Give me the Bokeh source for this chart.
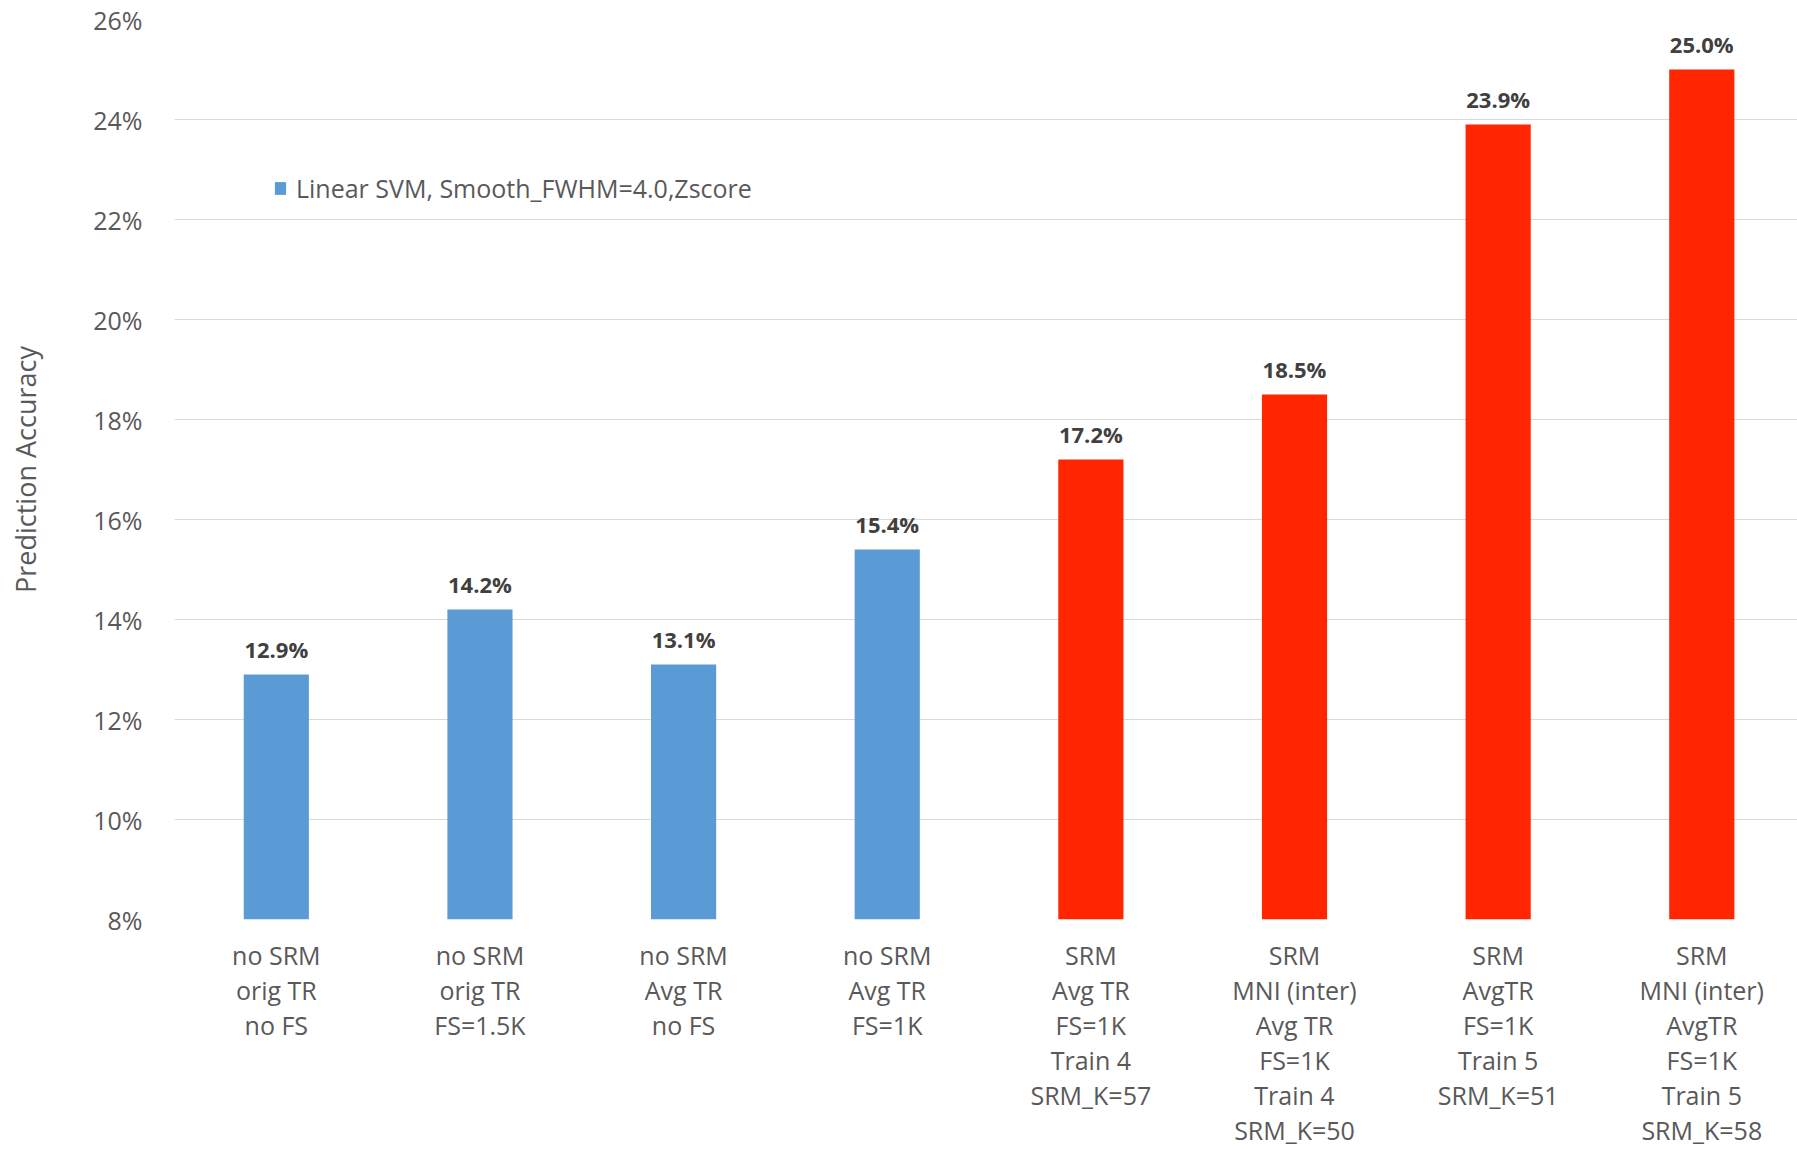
from bokeh.plotting import figure
from bokeh.models import (ColumnDataSource, Range1d, FixedTicker, PrintfTickFormatter,
                          Legend, LegendItem, LabelSet)
from bokeh.core.properties import value
from bokeh.embed import file_html
from bokeh.resources import INLINE

# Prediction accuracy (%) for each pipeline configuration
categories = [
    "no SRM\norig TR\nno FS",
    "no SRM\norig TR\nFS=1.5K",
    "no SRM\nAvg TR\nno FS",
    "no SRM\nAvg TR\nFS=1K",
    "SRM\nAvg TR\nFS=1K\nTrain 4\nSRM_K=57",
    "SRM\nMNI (inter)\nAvg TR\nFS=1K\nTrain 4\nSRM_K=50",
    "SRM\nAvgTR\nFS=1K\nTrain 5\nSRM_K=51",
    "SRM\nMNI (inter)\nAvgTR\nFS=1K\nTrain 5\nSRM_K=58",
]
accuracy = [12.9, 14.2, 13.1, 15.4, 17.2, 18.5, 23.9, 25.0]
uses_srm = [False, False, False, False, True, True, True, True]
y_ticks = [8, 10, 12, 14, 16, 18, 20, 22, 24, 26]
series_name = "Linear SVM, Smooth_FWHM=4.0,Zscore"

BLUE = "#5B9BD5"
RED = "#FF2600"
FONT = "Open Sans"

xs = [i + 0.5 for i in range(len(categories))]


def subset(flag):
    idx = [i for i, f in enumerate(uses_srm) if f == flag]
    return ColumnDataSource(dict(
        x=[xs[i] for i in idx],
        top=[accuracy[i] for i in idx],
        label=[f"{accuracy[i]:.1f}%" for i in idx],
    ))


src_base = subset(False)
src_srm = subset(True)

p = figure(width=1797, height=1149, output_backend="svg", toolbar_location=None,
           x_range=Range1d(0, 7.97), y_range=Range1d(8, 26),
           min_border_left=174, min_border_right=0, min_border_top=19,
           min_border_bottom=0)
p.outline_line_color = None
p.background_fill_color = "white"
p.border_fill_color = "white"

base_bars = p.vbar(x="x", top="top", bottom=8, width=0.32, source=src_base,
                   fill_color=BLUE, line_color=None)
p.vbar(x="x", top="top", bottom=8, width=0.32, source=src_srm,
       fill_color=RED, line_color=None)

for src in (src_base, src_srm):
    p.add_layout(LabelSet(x="x", y="top", text="label", source=src,
                          text_align="center", text_baseline="alphabetic",
                          y_offset=17, text_font=value(FONT),
                          text_font_style="bold", text_font_size="22px",
                          text_color="#404040"))

# x axis: multi-line category labels
xa = p.xaxis[0]
xa.ticker = FixedTicker(ticks=xs)
xa.major_label_overrides = {x: c for x, c in zip(xs, categories)}
xa.axis_line_color = None
xa.major_tick_line_color = None
xa.minor_tick_line_color = None
xa.major_label_text_font = FONT
xa.major_label_text_font_size = "25px"
xa.major_label_text_color = "#595959"
xa.major_label_text_line_height = 1.03
xa.major_label_standoff = 12

# y axis
ya = p.yaxis[0]
ya.ticker = FixedTicker(ticks=y_ticks)
ya.formatter = PrintfTickFormatter(format="%d%%")
ya.axis_line_color = None
ya.major_tick_line_color = None
ya.minor_tick_line_color = None
ya.major_label_text_font = FONT
ya.major_label_text_font_size = "25px"
ya.major_label_text_color = "#595959"
ya.major_label_standoff = 26
ya.axis_label = "Prediction Accuracy"
ya.axis_label_text_font = FONT
ya.axis_label_text_font_size = "27px"
ya.axis_label_text_font_style = "normal"
ya.axis_label_text_color = "#595959"
ya.axis_label_standoff = 46

p.xgrid.grid_line_color = None
p.ygrid.ticker = FixedTicker(ticks=y_ticks)
p.ygrid.grid_line_color = "#D9D9D9"
p.ygrid.grid_line_width = 1

legend = Legend(items=[LegendItem(label=series_name, renderers=[base_bars])],
                location=(99, 714), padding=0, margin=0,
                border_line_color=None, background_fill_alpha=0,
                glyph_width=14, glyph_height=16, label_standoff=9,
                label_text_font=FONT, label_text_font_size="25px",
                label_text_color="#595959")
p.add_layout(legend, "center")

open("out.html", "w").write(file_html(p, INLINE))
